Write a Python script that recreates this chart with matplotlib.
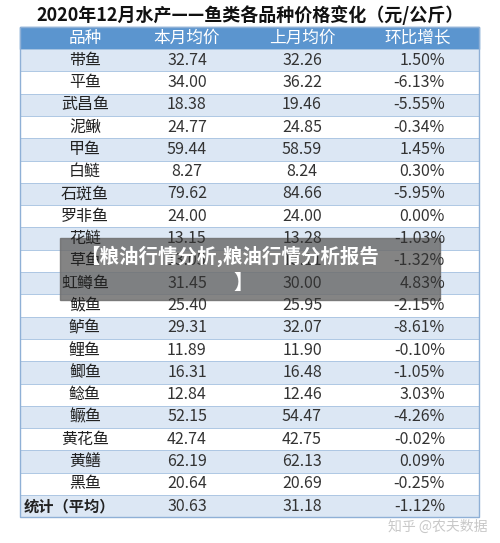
import matplotlib
matplotlib.use("Agg")
import matplotlib.pyplot as plt
from matplotlib.patches import Rectangle

plt.rcParams['font.family'] = ['Noto Sans CJK SC', 'DejaVu Sans']

title = "2020年12月水产——鱼类各品种价格变化（元/公斤）"
headers = ["品种", "本月均价", "上月均价", "环比增长"]
species = ["带鱼", "平鱼", "武昌鱼", "泥鳅", "甲鱼", "白鲢", "石斑鱼", "罗非鱼", "花鲢", "草鱼",
           "虹鳟鱼", "鲅鱼", "鲈鱼", "鲤鱼", "鲫鱼", "鲶鱼", "鳜鱼", "黄花鱼", "黄鳝", "黑鱼", "统计（平均）"]
this_month = ["32.74", "34.00", "18.38", "24.77", "59.44", "8.27", "79.62", "24.00", "13.15", "13.05",
              "31.45", "25.40", "29.31", "11.89", "16.31", "12.84", "52.15", "42.74", "62.19", "20.64", "30.63"]
last_month = ["32.26", "36.22", "19.46", "24.85", "58.59", "8.24", "84.66", "24.00", "13.28", "13.11",
              "30.00", "25.95", "32.07", "11.90", "16.48", "12.46", "54.47", "42.75", "62.13", "20.69", "31.18"]
change = ["1.50%", "-6.13%", "-5.55%", "-0.34%", "1.45%", "0.30%", "-5.95%", "0.00%", "-1.03%", "-1.32%",
          "4.83%", "-2.15%", "-8.61%", "-0.10%", "-1.05%", "3.03%", "-4.26%", "-0.02%", "0.09%", "-0.25%", "-1.12%"]

fig = plt.figure(figsize=(5.0, 5.43), dpi=100)
ax = fig.add_axes([0, 0, 1, 1])
ax.set_xlim(0, 500); ax.set_ylim(543, 0); ax.axis('off')

x0, x1 = 20, 479
colx = [85, 187, 302, 418]
ax.text(250, 15, title, ha='center', va='center', fontsize=13, fontweight='bold', color='#111111')

ytop, hh = 27, 22
ax.add_patch(Rectangle((x0, ytop), x1 - x0, hh, color='#5B95CF'))
for cx, h in zip(colx, headers):
    ax.text(cx, ytop + hh / 2, h, ha='center', va='center', fontsize=12, color='white')

rh = 22.3
y = ytop + hh
n = len(species)
for i in range(n):
    blue = (i % 2 == 0) or i == n - 1
    ax.add_patch(Rectangle((x0, y), x1 - x0, rh, facecolor='#DCE7F4' if blue else 'white',
                           edgecolor='#A9C4E2', lw=0.6))
    last = i == n - 1
    ax.text(colx[0] if not last else 24, y + rh / 2, species[i], ha='center' if not last else 'left',
            va='center', fontsize=11.5 if not last else 11,
            color='#222222', fontweight='bold' if last else 'normal')
    ax.text(colx[1], y + rh / 2, this_month[i], ha='center', va='center', fontsize=11.5, color='#333333')
    ax.text(colx[2], y + rh / 2, last_month[i], ha='center', va='center', fontsize=11.5, color='#333333')
    ax.text(colx[3] + 27, y + rh / 2, change[i], ha='right', va='center', fontsize=11.5, color='#333333')
    y += rh
ax.add_patch(Rectangle((x0, ytop), x1 - x0, y - ytop, fill=False, edgecolor='#8FB0D6', lw=1))

ax.add_patch(Rectangle((60, 238), 380, 62, color='#6E6E6E', alpha=0.85))
ax.text(80, 256, "【粮油行情分析,粮油行情分析报告", ha='left', va='center', fontsize=14,
        fontweight='bold', color='white')
ax.text(243, 283, "】", ha='center', va='center', fontsize=14, fontweight='bold', color='white')
ax.text(487, 527, "知乎 @农夫数据", ha='right', va='center', fontsize=10, color='#C8C8C8')

fig.savefig("out.png", dpi=100)
